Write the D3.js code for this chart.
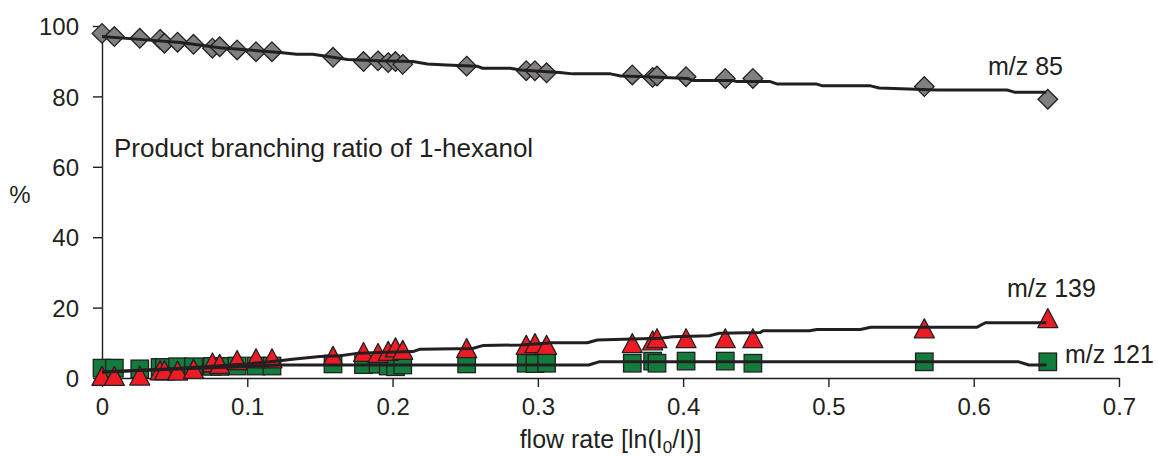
<!DOCTYPE html>
<html><head><meta charset="utf-8">
<script src="https://cdn.jsdelivr.net/npm/d3@7"></script>
<style>
body{margin:0;background:#fff}
svg{display:block}
text{font-family:"Liberation Sans",Arial,sans-serif;fill:#231f20}
</style>
</head><body>
<svg id="c" width="1158" height="457"></svg>
<script>
// ---- data ----
const flow  = [0, 0.0085, 0.026, 0.040, 0.043, 0.052, 0.063, 0.076, 0.081, 0.093, 0.106, 0.117, 0.159, 0.180, 0.190, 0.197, 0.202, 0.207, 0.251, 0.292, 0.298, 0.306, 0.365, 0.379, 0.382, 0.402, 0.429, 0.448, 0.566, 0.651];
const mz85  = [97.9, 97.0, 96.5, 96.2, 95.1, 95.4, 94.8, 93.7, 94.1, 93.2, 92.7, 92.7, 91.1, 89.9, 90.1, 89.6, 89.9, 89.1, 88.6, 87.3, 87.3, 86.7, 86.1, 85.4, 85.8, 85.6, 85.1, 85.1, 82.8, 79.2];
const mz139 = [0.6, 0.6, 0.7, 2.2, 2.2, 2.1, 2.6, 4.4, 4.0, 5.1, 5.6, 5.6, 6.3, 7.4, 7.1, 7.7, 8.7, 8.0, 8.5, 9.4, 9.9, 9.4, 9.9, 10.7, 11.3, 11.3, 11.3, 11.3, 14.1, 17.0];
const mz121 = [2.8, 2.8, 2.6, 3.0, 3.0, 3.2, 3.2, 3.3, 3.3, 3.4, 3.4, 3.4, 4.0, 3.8, 3.9, 3.4, 3.2, 3.7, 4.0, 4.2, 4.1, 4.2, 4.2, 4.8, 4.2, 4.8, 4.8, 4.2, 4.6, 4.6];

// smoothed trend lines (flow, %)
const trend85 = [[0,97.0],[0.026,96.2],[0.054,95.3],[0.081,93.8],[0.107,93.0],[0.1225,92.5],[0.134,92.0],[0.145,92.0],[0.159,91.1],[0.169,90.5],[0.191,90.1],[0.214,89.9],[0.224,89.2],[0.237,88.9],[0.258,88.6],[0.262,88.0],[0.281,88.0],[0.288,87.5],[0.315,86.8],[0.324,86.4],[0.350,86.4],[0.357,85.8],[0.375,85.6],[0.403,85.1],[0.407,84.5],[0.434,84.5],[0.437,84.2],[0.460,84.2],[0.465,83.5],[0.492,83.5],[0.496,83.0],[0.529,83.0],[0.535,82.4],[0.575,81.8],[0.623,81.8],[0.628,81.2],[0.650,81.2]];
const trend139 = [[0,1.6],[0.0076,1.8],[0.054,2.8],[0.100,4.0],[0.1225,4.9],[0.131,5.3],[0.150,6.1],[0.164,6.3],[0.1755,7.0],[0.214,7.5],[0.219,8.2],[0.255,8.4],[0.262,9.2],[0.288,9.4],[0.310,10.0],[0.334,10.0],[0.341,10.8],[0.359,11.0],[0.384,11.3],[0.393,11.7],[0.418,12.0],[0.425,12.7],[0.453,12.9],[0.455,13.4],[0.487,13.4],[0.492,13.8],[0.522,13.8],[0.529,14.4],[0.602,14.4],[0.608,15.7],[0.650,15.7]];
const trend121 = [[0,1.8],[0.030,2.2],[0.060,2.7],[0.100,3.3],[0.122,3.7],[0.260,3.7],[0.335,3.7],[0.342,4.6],[0.631,4.6],[0.638,3.7],[0.650,3.7]];

const xTicks = [0, 0.1, 0.2, 0.3, 0.4, 0.5, 0.6, 0.7];
const yTicks = [0, 20, 40, 60, 80, 100];
const seriesLabels = ["m/z 85", "m/z 139", "m/z 121"];
const chartNote = "Product branching ratio of 1-hexanol";

// ---- drawing ----
const svg = d3.select("#c");
const ink = "#231f20";
const x = d3.scaleLinear().domain([0, 0.7]).range([102, 1119]);
const y = d3.scaleLinear().domain([0, 100]).range([378, 26]);

const gx = svg.append("g").attr("transform", `translate(0,${y(0)})`)
  .call(d3.axisBottom(x).tickValues(xTicks).tickSize(9).tickSizeOuter(0).tickFormat(d3.format("")));
gx.selectAll("text").attr("y", 37).attr("dy", 0).style("font-size", "24px");

const gy = svg.append("g").attr("transform", `translate(${x(0)},0)`)
  .call(d3.axisLeft(y).tickValues(yTicks).tickSize(9).tickSizeOuter(0));
gy.selectAll("text").attr("x", -23).attr("dy", "0.36em").style("font-size", "24px");

svg.selectAll(".domain, .tick line").attr("stroke", ink).attr("stroke-width", 1.4);
svg.selectAll(".tick text").style("fill", ink).attr("font-family", null);

function stext(px, py, str, size, anchor) {
  return svg.append("text")
    .attr("x", px).attr("y", py)
    .attr("text-anchor", anchor || "start")
    .style("font-size", size + "px")
    .text(str);
}

// axis titles
stext(20, 203, "%", 24, "middle");
const xt = svg.append("text")
  .attr("x", (x(0) + x(0.7)) / 2).attr("y", 448)
  .attr("text-anchor", "middle").style("font-size", "25px");
xt.append("tspan").text("flow rate [ln(I");
xt.append("tspan").attr("dy", 5).style("font-size", "17px").text("0");
xt.append("tspan").attr("dy", -5).text("/I)]");

// note
stext(x(0) + 12, 157, chartNote, 26);

// markers
const rows = flow.map((f, i) => ({f, a: mz85[i], b: mz139[i], c: mz121[i]}));
const S = 17.5;
svg.append("g").selectAll("rect").data(rows).join("rect")
  .attr("x", d => x(d.f) - S/2).attr("y", d => y(d.c) - S/2)
  .attr("width", S).attr("height", S)
  .attr("fill", "#127c3d").attr("stroke", ink).attr("stroke-width", 1.3);

const TW = 20, TH = 19;
svg.append("g").selectAll("path").data(rows).join("path")
  .attr("d", d => { const cx = x(d.f), cy = y(d.b);
    return `M${cx},${cy - TH/2}L${cx + TW/2},${cy + TH/2}L${cx - TW/2},${cy + TH/2}Z`; })
  .attr("fill", "#ed1c24").attr("stroke", ink).attr("stroke-width", 1.3).attr("stroke-linejoin", "round");

const DR = 9.8;
svg.append("g").selectAll("path").data(rows).join("path")
  .attr("d", d => { const cx = x(d.f), cy = y(d.a);
    return `M${cx},${cy - DR}L${cx + DR},${cy}L${cx},${cy + DR}L${cx - DR},${cy}Z`; })
  .attr("fill", "#808080").attr("stroke", ink).attr("stroke-width", 1.3);

// trend lines
const line = d3.line().x(d => x(d[0])).y(d => y(d[1]));
[trend121, trend139, trend85].forEach(t => {
  svg.append("path").attr("d", line(t)).attr("fill", "none")
    .attr("stroke", ink).attr("stroke-width", 3).attr("stroke-linejoin", "round");
});

// series labels
stext(988, 75, seriesLabels[0], 25);
stext(1007, 297, seriesLabels[1], 25);
stext(1065, 363, seriesLabels[2], 25);
</script>
</body></html>
